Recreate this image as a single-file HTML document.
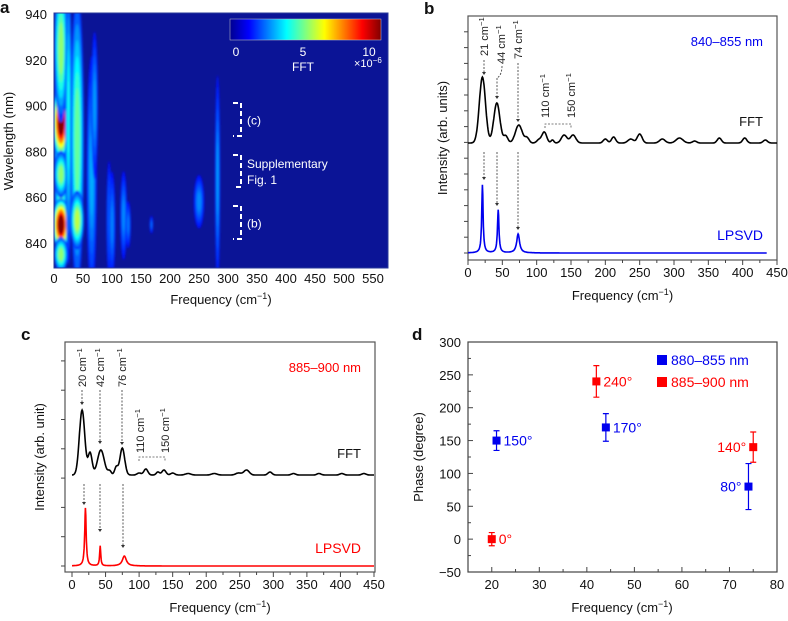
<!DOCTYPE html>
<html><head><meta charset="utf-8">
<style>
html,body{margin:0;padding:0;background:#fff;}
svg{display:block;font-family:"Liberation Sans",Arial,sans-serif;}
</style></head>
<body>
<svg id="fig" width="788" height="621" viewBox="0 0 788 621" xmlns="http://www.w3.org/2000/svg">
<defs>
<filter id="blur" x="-50%" y="-50%" width="200%" height="200%"><feGaussianBlur stdDeviation="1.0"/></filter>
<linearGradient id="jetbar" x1="0" x2="1" y1="0" y2="0">
<stop offset="0" stop-color="#00008f"/><stop offset="0.125" stop-color="#0000ff"/><stop offset="0.375" stop-color="#00ffff"/><stop offset="0.625" stop-color="#ffff00"/><stop offset="0.875" stop-color="#ff0000"/><stop offset="1" stop-color="#800000"/>
</linearGradient>
<clipPath id="clipA"><rect x="54" y="13" width="334" height="255"/></clipPath>
</defs>
<g id="root"></g>
</svg>
<script>
// ---------- DATA ----------
const blobFreq = [12, 12, 12, 12, 12, 12, 25, 40, 40, 65, 70, 95, 100, 120, 128, 168, 250, 282];
const blobWl   = [885, 893, 848, 925, 870, 835, 895, 885, 850, 870, 900, 850, 848, 852, 848, 848, 858, 868];
const blobSf   = [4, 5, 5, 4, 4, 4, 2, 4, 4, 3, 2, 1.5, 2, 2, 1.5, 1, 3, 1.5];
const blobSw   = [60, 13, 9, 25, 8, 6, 50, 50, 10, 40, 25, 20, 18, 15, 8, 3, 9, 35];
const blobVal  = [0.45, 1.0, 1.0, 0.45, 0.45, 0.45, 0.3, 0.4, 0.5, 0.2, 0.18, 0.15, 0.15, 0.16, 0.14, 0.13, 0.16, 0.18];
const aFreqTicks = [0,50,100,150,200,250,300,350,400,450,500,550];
const aWlTicks = [840,860,880,900,920,940];

const bFftPos = [21, 42, 55, 74, 86, 103, 111, 123, 140, 153, 200, 212, 237, 250, 283, 308, 330, 366, 403, 433];
const bFftAmp = [66, 40, 7, 18, 5, 3, 11, 3, 8, 8, 4, 6, 4, 9, 4, 5, 2, 5, 5, 3];
const bFftWid = [4.5, 4.5, 3, 5, 3, 3, 3.5, 2, 4, 4, 3, 3, 4, 3.5, 4, 5, 3, 3, 3, 3];
const bLpPos = [21, 44, 73];
const bLpAmp = [68, 43, 19];
const bLpWid = [1.2, 1.3, 2.5];
const cFftPos = [15, 27, 43, 56, 66, 75, 100, 110, 128, 137, 150, 173, 212, 248, 260, 295, 330, 368, 402, 435];
const cFftAmp = [65, 22, 25, 4, 8, 27, 2, 6, 3, 5, 2, 1.5, 1.5, 2, 5, 3, 1.5, 1.5, 1.5, 1.5];
const cFftWid = [4, 3, 5, 2.5, 2.5, 3.5, 3, 3, 2.5, 3, 3, 4, 4, 4, 4, 3, 3, 3, 3, 3];
const cLpPos = [20, 42, 78];
const cLpAmp = [58, 20, 10];
const cLpWid = [1.3, 1.0, 3.5];
const specTicks = [0,50,100,150,200,250,300,350,400,450];

const dBlueFreq = [21, 44, 74];
const dBluePhase = [150, 170, 80];
const dBlueErr = [15, 21, 35];
const dBlueLbl = ["150°", "170°", "80°"];
const dRedFreq = [20, 42, 75];
const dRedPhase = [0, 240, 140];
const dRedErr = [10, 24, 23];
const dRedLbl = ["0°", "240°", "140°"];
const dXTicks = [20,30,40,50,60,70,80];
const dYTicks = [-50,0,50,100,150,200,250,300];

// ---------- HELPERS ----------
const NS = "http://www.w3.org/2000/svg";
const root = document.getElementById('root');
function el(tag, attrs, parent, text){
  const e = document.createElementNS(NS, tag);
  for (const k in attrs) e.setAttribute(k, attrs[k]);
  if (text !== undefined) e.textContent = text;
  (parent||root).appendChild(e);
  return e;
}
function lin(d0,d1,r0,r1){ return v => r0 + (v-d0)*(r1-r0)/(d1-d0); }
function jet(v){
  v=Math.max(0,Math.min(1,v));
  const r = Math.max(0,Math.min(1, 1.5-Math.abs(4*v-3)));
  const g = Math.max(0,Math.min(1, 1.5-Math.abs(4*v-2)));
  const b = Math.max(0,Math.min(1, 1.5-Math.abs(4*v-1)));
  return `rgb(${Math.round(r*255)},${Math.round(g*255)},${Math.round(b*255)})`;
}
function txt(x,y,s,opts,parent){
  return el('text', Object.assign({x:x,y:y,'font-size':13,fill:'#111'},opts||{}), parent, s);
}
function label(g, x, y, s, name, opts){
  const t = txt(x,y,s,opts,g);
  
  
  return t;
}
function cmLabel(g,x,y,num,rot,fs){
  const t = el('text',{x:0,y:0,'font-size':fs||11,fill:'#222',transform:`translate(${x},${y}) rotate(-90)`},g);
  
  
  t.appendChild(document.createTextNode(num+' cm'));
  el('tspan',{dy:-4,'font-size':(fs||11)*0.7},t,'−1');
  return t;
}
function dashArrow(g,x,y1,y2){
  const l = el('line',{x1:x,y1:y1,x2:x,y2:y2-3,stroke:'#333','stroke-width':0.8,'stroke-dasharray':'2,1.5'},g);
  
  
  el('path',{d:`M${x-2},${y2-3} L${x+2},${y2-3} L${x},${y2} Z`,fill:'#333'},g);
}
function freqTitle(g,cx,y){
  const t = el('text',{x:cx,y:y,'font-size':13,'text-anchor':'middle',fill:'#111'},g);
  
  
  t.appendChild(document.createTextNode('Frequency (cm'));
  el('tspan',{dy:-5,'font-size':9},t,'−1');
  el('tspan',{dy:5},t,')');
}

// ---------- PANEL A ----------
(function(){
  const g = el('g',{});
  
  
  const X = lin(0,550,54,373), Y = lin(840,940,243,14);
  el('rect',{x:54,y:13,width:334,height:255,fill:'#0b1496'},g);
  const hg = el('g',{'clip-path':'url(#clipA)'},g);
  const bg = el('g',{filter:'url(#blur)'},hg);
  for (let i=0;i<blobFreq.length;i++){
    const cx=X(blobFreq[i]), cy=Y(blobWl[i]);
    const rx=Math.abs(X(blobSf[i])-X(0))*3, ry=Math.abs(Y(840+blobSw[i])-Y(840))*1.3;
    const n=7;
    for (let k=1;k<=n;k++){
      const f = k/n;
      const e = el('ellipse',{cx:cx,cy:cy,rx:rx*(1.1-f*0.75),ry:ry*(1.1-f*0.75),fill:jet(0.12+(blobVal[i]*0.88)*f)},bg);
      
      
    }
  }
  el('rect',{x:54,y:13,width:334,height:255,fill:'none',stroke:'#2a3a9a','stroke-width':1},g);
  aFreqTicks.forEach(v=>{ label(g,X(v),283,String(v),'x-tick-label',{'text-anchor':'middle'}); });
  aWlTicks.forEach(v=>{ label(g,47,Y(v)+5,String(v),'y-tick-label',{'text-anchor':'end'}); });
  freqTitle(g,221,304);
  label(g,0,0,'Wavelength (nm)','y-axis-title',{'text-anchor':'middle',transform:'translate(13,141) rotate(-90)'});
  label(g,0,13,'a','panel-label-a',{'font-size':17,'font-weight':'bold'});
  const cb = el('rect',{x:230,y:19,width:151,height:21,fill:'url(#jetbar)',stroke:'#ccc','stroke-width':0.5},g);
  
  
  label(g,236,56,'0','colorbar-tick',{fill:'#fff','font-size':12,'text-anchor':'middle'});
  label(g,303,56,'5','colorbar-tick',{fill:'#fff','font-size':12,'text-anchor':'middle'});
  label(g,369,56,'10','colorbar-tick',{fill:'#fff','font-size':12,'text-anchor':'middle'});
  label(g,303,71,'FFT','colorbar-title',{fill:'#fff','font-size':12,'text-anchor':'middle'});
  const ex = label(g,354,67,'×10','colorbar-exponent',{fill:'#fff','font-size':11});
  el('tspan',{dy:-4,'font-size':8},ex,'−6');
  const br = [[103,136,'(c)'],[155,187,'Supplementary'],[206,239,'(b)']];
  br.forEach((b,i)=>{
    const p = el('path',{d:`M233,${b[0]} H241 V${b[1]} H233`,fill:'none',stroke:'#fff','stroke-width':2,'stroke-dasharray':'5,3'},g);
    
    
    label(g,247,(b[0]+b[1])/2+(i==1?-3:5),b[2],'bracket-label',{fill:'#fff','font-size':12});
  });
  label(g,247,184,'Fig. 1','bracket-label',{fill:'#fff','font-size':12});
})();

// ---------- SPECTRUM PANELS ----------
function spectrum(opt){
  const g = el('g',{});
  
  
  const X = lin(0,450,opt.x0,opt.x1);
  el('rect',{x:opt.fl,y:opt.ft,width:opt.fr-opt.fl,height:opt.fb-opt.ft,fill:'none',stroke:'#555','stroke-width':1.2},g);
  for (let y=opt.fb-opt.tickOff; y>opt.ft+2; y-=opt.tickStep){
    el('line',{x1:opt.fl-4,y1:y,x2:opt.fl,y2:y,stroke:'#444','stroke-width':1},g);
  }
  for (let v=0; v<=450; v+=25){
    el('line',{x1:X(v),y1:opt.fb,x2:X(v),y2:opt.fb+(v%50==0?5:3),stroke:'#444','stroke-width':1},g);
  }
  specTicks.forEach(v=> label(g,X(v),opt.fb+17,String(v),'x-tick-label',{'text-anchor':'middle'}));
  freqTitle(g,(opt.fl+opt.fr)/2,opt.fb+40);
  label(g,0,0,opt.ytitle,'y-axis-title',{'text-anchor':'middle',transform:`translate(${opt.fl-21},${(opt.ft+opt.fb)/2}) rotate(-90)`,'font-size':13});
  let d='';
  for (let f=0; f<=450; f+=0.75){
    let v=0;
    for (let i=0;i<opt.fp.length;i++){ const z=(f-opt.fp[i])/opt.fw[i]; v+=opt.fa[i]*Math.exp(-0.5*z*z); }
    d += (f==0?'M':'L')+X(f).toFixed(1)+','+(opt.fBase-v).toFixed(1);
  }
  const fc = el('path',{d:d,fill:'none',stroke:'#000','stroke-width':1.6},g);
  
  
  d='';
  for (let f=0; f<=opt.lpEnd; f+=0.5){
    let v=0;
    for (let i=0;i<opt.lp.length;i++){ const z=(f-opt.lp[i])/opt.lw[i]; v+=opt.la[i]/(1+z*z); }
    d += (f==0?'M':'L')+X(f).toFixed(1)+','+(opt.lBase-v).toFixed(1);
  }
  const lc = el('path',{d:d,fill:'none',stroke:opt.color,'stroke-width':1.6},g);
  
  
  label(g,opt.fr-14,opt.fBase-17,'FFT','fft-label',{'text-anchor':'end','font-size':13});
  label(g,opt.fr-14,opt.lBase-13,'LPSVD','lpsvd-label',{'text-anchor':'end','font-size':14,fill:opt.color});
  label(g,opt.fr-14,opt.ft+30,opt.range,'range-label',{'text-anchor':'end','font-size':13,fill:opt.color});
  label(g,opt.fl-44,opt.ft-2,opt.letter,'panel-label',{'font-size':17,'font-weight':'bold'});
  return {g:g,X:X};
}

(function(){
  const s = spectrum({name:'panel-b-spectrum',x0:468,x1:777,fl:468,fr:777,ft:16,fb:260,tickStep:15.8,tickOff:7,
    fp:bFftPos,fa:bFftAmp,fw:bFftWid,fBase:143,lp:bLpPos,la:bLpAmp,lw:bLpWid,lBase:253,lpEnd:435,
    color:'#0000ee',ytitle:'Intensity (arb. units)',range:'840–855 nm',letter:'b'});
  const g=s.g;
  cmLabel(g,488,56,'21'); dashArrow(g,484,60,75);
  cmLabel(g,505,64,'44');
  el('path',{d:'M502,66 Q502,75 497,78',fill:'none',stroke:'#333','stroke-width':0.8,'stroke-dasharray':'2,1.5'},g);
  dashArrow(g,497,78,99);
  cmLabel(g,522,59,'74'); dashArrow(g,518,63,122);
  cmLabel(g,549,118,'110'); cmLabel(g,575,118,'150');
  el('path',{d:'M545,128 V124 H571 V128',fill:'none',stroke:'#555','stroke-width':0.8,'stroke-dasharray':'2,1.5'},g);
  dashArrow(g,484,152,180); dashArrow(g,497,152,206); dashArrow(g,518,152,230);
})();

(function(){
  const s = spectrum({name:'panel-c-spectrum',x0:72,x1:374,fl:65,fr:375,ft:342,fb:572,tickStep:29.3,tickOff:6,
    fp:cFftPos,fa:cFftAmp,fw:cFftWid,fBase:475,lp:cLpPos,la:cLpAmp,lw:cLpWid,lBase:566,lpEnd:450,
    color:'#ff0000',ytitle:'Intensity (arb. unit)',range:'885–900 nm',letter:'c'});
  const g=s.g;
  cmLabel(g,86,387,'20'); dashArrow(g,82,390,405);
  cmLabel(g,104,387,'42'); dashArrow(g,100,390,444);
  cmLabel(g,126,387,'76'); dashArrow(g,122,390,445);
  cmLabel(g,144,453,'110'); cmLabel(g,169,453,'150');
  el('path',{d:'M139,461 V457 H165 V461',fill:'none',stroke:'#555','stroke-width':0.8,'stroke-dasharray':'2,1.5'},g);
  dashArrow(g,84,484,505); dashArrow(g,100,484,532); dashArrow(g,123,484,548);
})();

// ---------- PANEL D ----------
(function(){
  const g = el('g',{});
  
  
  const X = lin(15,80,468,777), Y = lin(-50,300,572,342);
  el('rect',{x:468,y:342,width:309,height:230,fill:'none',stroke:'#444','stroke-width':1.2},g);
  for (let v=-50; v<=300; v+=25){
    el('line',{x1:468,y1:Y(v),x2:v%50==0?473:471,y2:Y(v),stroke:'#444'},g);
  }
  for (let v=15; v<=80; v+=5){
    el('line',{x1:X(v),y1:572,x2:X(v),y2:v%10==0?567:569,stroke:'#444'},g);
  }
  dXTicks.forEach(v=>label(g,X(v),589,String(v),'x-tick-label',{'text-anchor':'middle'}));
  dYTicks.forEach(v=>label(g,461,Y(v)+5,v<0?'−'+(-v):String(v),'y-tick-label',{'text-anchor':'end'}));
  freqTitle(g,622,612);
  label(g,0,0,'Phase (degree)','y-axis-title',{'text-anchor':'middle',transform:'translate(423,457) rotate(-90)'});
  label(g,412,340,'d','panel-label-d',{'font-size':17,'font-weight':'bold'});
  function series(fr,ph,er,lb,col,name,left){
    for (let i=0;i<fr.length;i++){
      const x=X(fr[i]), y=Y(ph[i]), y1=Y(ph[i]+er[i]), y2=Y(ph[i]-er[i]);
      el('path',{d:`M${x},${y1} V${y2} M${x-3},${y1} H${x+3} M${x-3},${y2} H${x+3}`,stroke:col,'stroke-width':1.2,fill:'none'},g);
      const r = el('rect',{x:x-4,y:y-4,width:8,height:8,fill:col},g);
      
      
      const l = left[i];
      label(g,l?x-7:x+7,y+5,lb[i],'point-label',{fill:col,'font-size':14,'text-anchor':l?'end':'start'});
    }
  }
  series(dBlueFreq,dBluePhase,dBlueErr,dBlueLbl,'#0000ee','blue-point',[false,false,true]);
  series(dRedFreq,dRedPhase,dRedErr,dRedLbl,'#ff0000','red-point',[false,false,true]);
  const l1=el('rect',{x:657,y:355,width:10,height:10,fill:'#0000ee'},g);
   
  label(g,671,365,'880–855 nm','legend-entry',{fill:'#0000ee','font-size':14});
  const l2=el('rect',{x:657,y:377,width:10,height:10,fill:'#ff0000'},g);
   
  label(g,671,387,'885–900 nm','legend-entry',{fill:'#ff0000','font-size':14});
})();
</script>
</body></html>
